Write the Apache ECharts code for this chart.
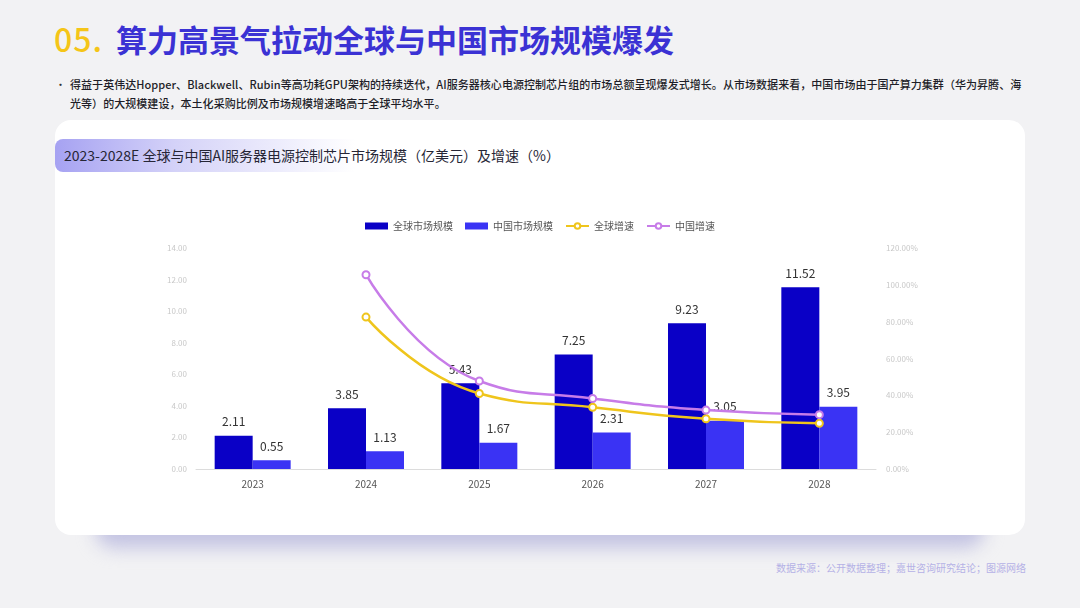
<!DOCTYPE html>
<html><head><meta charset="utf-8">
<script src="https://cdn.jsdelivr.net/npm/echarts@6/dist/echarts.min.js"></script>
<style>
html,body{margin:0;padding:0;width:1080px;height:608px;overflow:hidden;background:#f2f2f4;font-family:"Noto Sans CJK SC","Noto Sans",sans-serif;}
#title{position:absolute;left:54px;top:15px;font-size:31px;font-weight:bold;line-height:46px;white-space:nowrap;}
#title .num{color:#f5c518;font-weight:500;font-size:32px;letter-spacing:1px;}
#title .txt{color:#3b32d4;margin-left:6px;}
#bullet{position:absolute;left:70px;top:75px;width:958px;font-size:11px;line-height:19px;color:#1e1e28;font-weight:500;letter-spacing:0.05px;}
#dot{position:absolute;left:55px;top:75px;font-size:11px;line-height:19px;color:#333;}
#shadow{position:absolute;left:95px;top:508px;width:890px;height:40px;background:#c3c3e2;filter:blur(9px);border-radius:20px;}
#card{position:absolute;left:55px;top:120px;width:970px;height:415px;background:#fff;border-radius:16px;}
#ctitle{position:absolute;left:55px;top:139px;width:300px;height:33px;border-radius:8px 0 0 8px;background:linear-gradient(90deg,#a6a2f2 0%,#d4d2f8 40%,rgba(255,255,255,0) 100%);}
#ctitletxt{position:absolute;left:64px;top:139px;height:33px;line-height:33px;font-size:14px;color:#262636;white-space:nowrap;}
#src{position:absolute;left:776px;top:560px;font-size:10px;color:#b5b1e6;white-space:nowrap;}
#chart{position:absolute;left:0;top:0;width:1080px;height:608px;}
</style></head>
<body>
<div id="title"><span class="num">05.</span> <span class="txt">算力高景气拉动全球与中国市场规模爆发</span></div>
<div id="dot">•</div>
<div id="bullet">得益于英伟达Hopper、Blackwell、Rubin等高功耗GPU架构的持续迭代，AI服务器核心电源控制芯片组的市场总额呈现爆发式增长。从市场数据来看，中国市场由于国产算力集群（华为昇腾、海<br>光等）的大规模建设，本土化采购比例及市场规模增速略高于全球平均水平。</div>
<div id="shadow"></div>
<div id="card"></div>
<div id="ctitle"></div>
<div id="ctitletxt">2023-2028E 全球与中国AI服务器电源控制芯片市场规模（亿美元）及增速（%）</div>
<div id="src">数据来源：公开数据整理；嘉世咨询研究结论；图源网络</div>
<div id="chart"></div>
<script>
const categories = ['2023','2024','2025','2026','2027','2028'];
const globalMarket = [2.11, 3.85, 5.43, 7.25, 9.23, 11.52];
const chinaMarket = [0.55, 1.13, 1.67, 2.31, 3.05, 3.95];
const globalGrowth = [null, 82.5, 41.0, 33.5, 27.3, 24.8];
const chinaGrowth = [null, 105.5, 47.8, 38.3, 32.0, 29.5];
const seriesNames = ['全球市场规模','中国市场规模','全球增速','中国增速'];

const chart = echarts.init(document.getElementById('chart'));
const font = '"Noto Sans CJK SC","Noto Sans",sans-serif';
const barLabel = {show:true, position:'top', distance:8, color:'#333', fontSize:12, fontFamily:font, formatter: p => p.value.toFixed(2)};
chart.setOption({
  backgroundColor:'transparent',
  textStyle:{fontFamily:font},
  legend:{
    data:[
      {name:seriesNames[0], icon:'rect'},
      {name:seriesNames[1], icon:'rect'},
      {name:seriesNames[2]},
      {name:seriesNames[3]}
    ],
    top:216, left:'center', itemWidth:23, itemHeight:7, itemGap:12,
    textStyle:{color:'#555', fontSize:10, fontFamily:font}
  },
  grid:{left:196, right:204, top:248, bottom:139, containLabel:false},
  xAxis:{
    type:'category', data:categories,
    axisLine:{lineStyle:{color:'#dcdcdc'}},
    axisTick:{show:false},
    axisLabel:{color:'#555', fontSize:10, margin:10}
  },
  yAxis:[
    {type:'value', min:0, max:14, interval:2, splitLine:{show:false},
     axisLine:{show:false}, axisTick:{show:false},
     axisLabel:{color:'#c8c8c8', fontSize:8, margin:9, formatter:v=>v.toFixed(2)}},
    {type:'value', min:0, max:120, interval:20, splitLine:{show:false},
     axisLine:{show:false}, axisTick:{show:false},
     axisLabel:{color:'#c8c8c8', fontSize:8, margin:10, formatter:v=>v.toFixed(2)+'%'}}
  ],
  series:[
    {name:seriesNames[0], type:'bar', data:globalMarket, barWidth:38, barGap:'0%',
     itemStyle:{color:'#0a00c6'}, label:barLabel},
    {name:seriesNames[1], type:'bar', data:chinaMarket, barWidth:38,
     itemStyle:{color:'#3a33f4'}, label:barLabel},
    {name:seriesNames[2], type:'line', yAxisIndex:1, data:globalGrowth, smooth:true,
     symbol:'emptyCircle', symbolSize:7, lineStyle:{color:'#efc51c', width:2.5},
     itemStyle:{color:'#efc51c', borderWidth:2}, connectNulls:false},
    {name:seriesNames[3], type:'line', yAxisIndex:1, data:chinaGrowth, smooth:true,
     symbol:'emptyCircle', symbolSize:7, lineStyle:{color:'#c77ce8', width:2.5},
     itemStyle:{color:'#c77ce8', borderWidth:2}, connectNulls:false}
  ]
});
</script>
</body></html>
